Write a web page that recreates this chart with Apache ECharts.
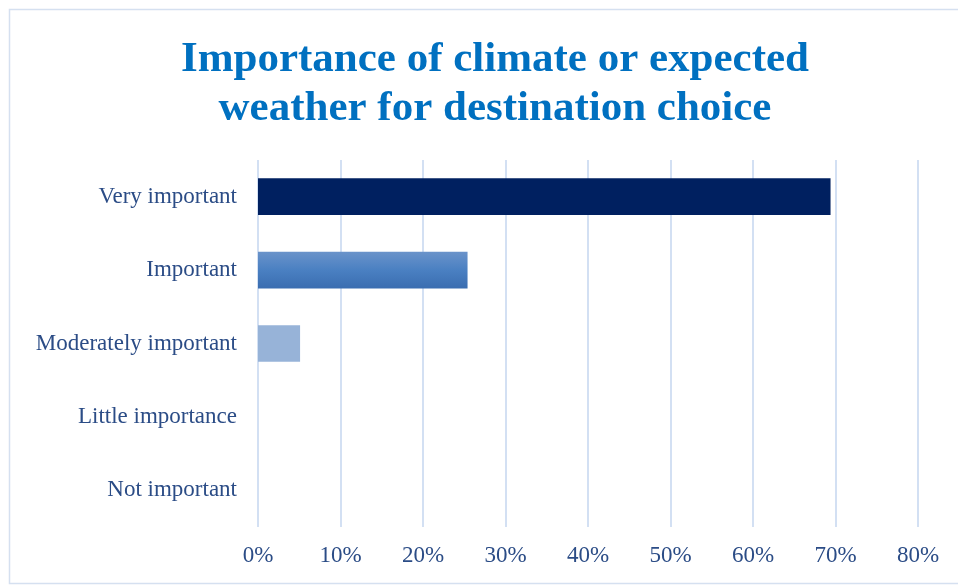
<!DOCTYPE html>
<html>
<head>
<meta charset="utf-8">
<script src="https://cdn.jsdelivr.net/npm/echarts@6/dist/echarts.min.js"></script>
<style>
  html, body { margin: 0; padding: 0; background: #ffffff; }
  #chart { width: 958px; height: 585px; }
</style>
</head>
<body>
<div id="chart"></div>
<script>
// Survey answers, listed top to bottom
const categories = ['Very important', 'Important', 'Moderately important', 'Little importance', 'Not important'];
// Share of respondents (%)
const shares = [69.4, 25.4, 5.1, 0, 0];
const tickValues = [0, 10, 20, 30, 40, 50, 60, 70, 80];

const serif = '"Liberation Serif", "Times New Roman", serif';
const labelColor = '#2b4c86';

const barStyles = [
  { color: '#002060' },
  { color: new echarts.graphic.LinearGradient(0, 0, 0, 1, [
      { offset: 0, color: '#6a93ca' },
      { offset: 0.5, color: '#4a80c2' },
      { offset: 1, color: '#3a6db0' }
    ]) },
  { color: '#97b3d8' },
  { color: '#97b3d8' },
  { color: '#97b3d8' }
];

const chart = echarts.init(document.getElementById('chart'), null, { renderer: 'canvas' });

chart.setOption({
  backgroundColor: '#ffffff',
  animation: false,
  graphic: [{
    type: 'rect',
    shape: { x: 9.5, y: 9.5, width: 960, height: 574 },
    style: { fill: 'none', stroke: '#d5e0f0', lineWidth: 1.5 },
    silent: true
  }],
  title: {
    text: 'Importance of climate or expected\nweather for destination choice',
    left: 490,
    textAlign: 'center',
    top: 30,
    textStyle: {
      fontFamily: serif,
      fontWeight: 'bold',
      fontSize: 43,
      lineHeight: 49,
      color: '#0070c0'
    }
  },
  grid: {
    left: 258,
    right: 40,
    top: 160,
    bottom: 58,
    containLabel: false
  },
  xAxis: {
    type: 'value',
    min: 0,
    max: 80,
    interval: 10,
    axisLine: { show: false },
    axisTick: { show: false },
    splitLine: { show: true, lineStyle: { color: '#d3e0f3', width: 2 } },
    axisLabel: {
      formatter: function (v) { return tickValues.indexOf(v) >= 0 ? v + '%' : ''; },
      fontFamily: serif,
      fontSize: 23,
      color: labelColor,
      margin: 17
    }
  },
  yAxis: {
    type: 'category',
    inverse: true,
    data: categories,
    axisLine: { show: false },
    axisTick: { show: false },
    axisLabel: {
      fontFamily: serif,
      fontSize: 23,
      color: labelColor,
      margin: 21
    }
  },
  series: [{
    type: 'bar',
    barWidth: '50%',
    data: shares.map(function (v, i) { return { value: v, itemStyle: barStyles[i] }; })
  }]
});
</script>
</body>
</html>
